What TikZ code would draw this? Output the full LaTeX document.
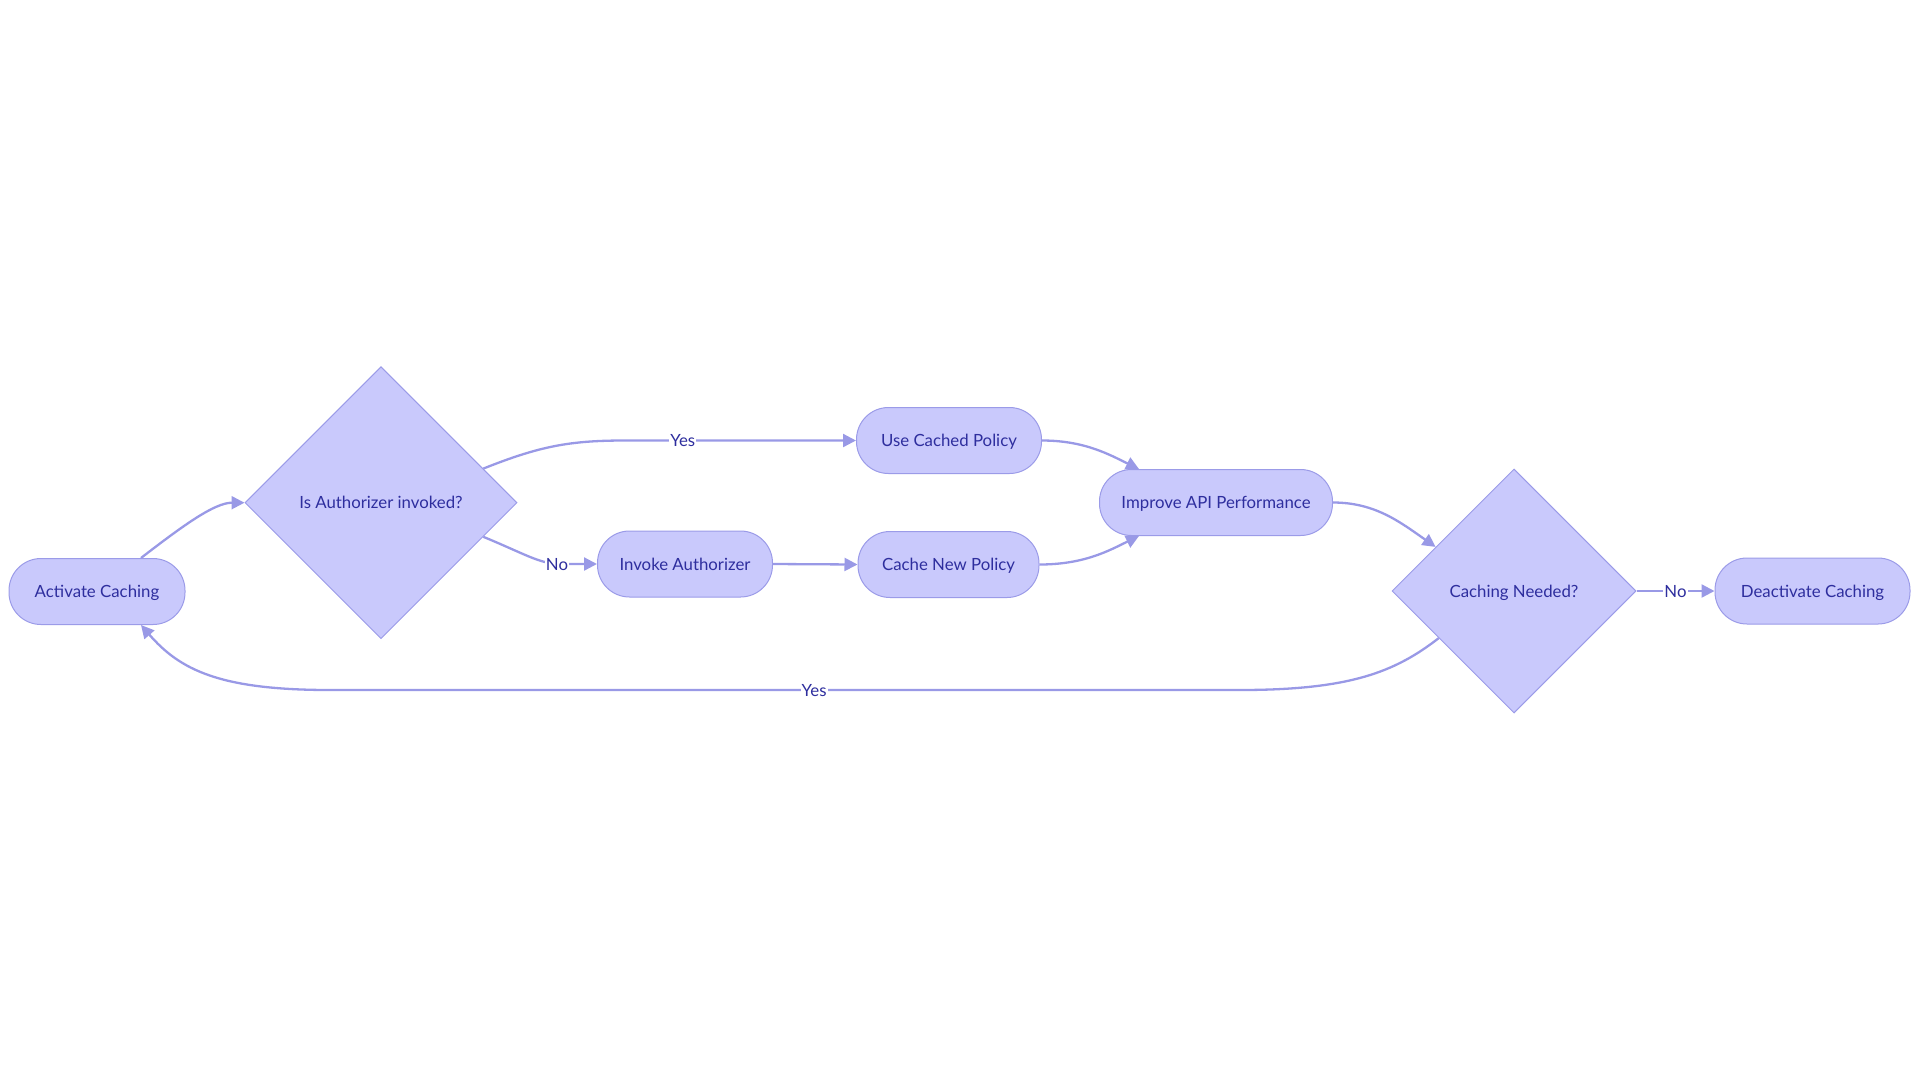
\documentclass[tikz,border=0pt]{standalone}
\usepackage{fontspec}
\setmainfont{Lato}
\usetikzlibrary{shapes.geometric,arrows.meta,calc}
\definecolor{nfill}{HTML}{C9C9FC}
\definecolor{nstroke}{HTML}{9B9BE8}
\definecolor{ncol}{HTML}{9999E6}
\definecolor{ntext}{HTML}{2E2E9E}
\tikzset{
  pill/.style={draw=nstroke, fill=nfill, line width=1pt, rectangle, rounded corners=32pt, minimum height=66pt, inner sep=0pt, text=ntext, text height=13pt, text depth=1pt, font=\fontsize{16.8}{19}\selectfont},
  decide/.style={draw=nstroke, fill=nfill, line width=1pt, diamond, aspect=1, inner sep=0pt, text=ntext, text height=13pt, text depth=1pt, font=\fontsize{16.8}{19}\selectfont},
  conn/.style={draw=ncol, line width=2.3pt, -{Triangle[length=13pt,width=13pt]}},
  elabel/.style={fill=white, text=ntext, inner sep=1pt, text height=13pt, text depth=1pt, font=\fontsize{16.8}{19}\selectfont}
}
\begin{document}
\begin{tikzpicture}[x=1pt,y=-1pt]
\useasboundingbox (0,0) rectangle (1920,1080);
\node[pill, minimum width=176pt] (act) at (97,591.5) {Activate Caching};
\node[decide, minimum width=272pt, minimum height=272pt] (d1) at (381,502.7) {Is Authorizer invoked?};
\node[pill, minimum width=185pt] (use) at (949,440.5) {Use Cached Policy};
\node[pill, minimum width=175pt] (inv) at (685,564) {Invoke Authorizer};
\node[pill, minimum width=181pt] (cnew) at (948.5,564.5) {Cache New Policy};
\node[pill, minimum width=233pt] (imp) at (1216,502.5) {Improve API Performance};
\node[decide, minimum width=244pt, minimum height=244pt] (d2) at (1514,591) {Caching Needed?};
\node[pill, minimum width=195pt] (deact) at (1812.5,591) {Deactivate Caching};

\coordinate (a1) at ([xshift=44pt]act.north);
\coordinate (a2) at ([xshift=44pt]act.south);
\coordinate (d1u) at ($(d1.east)!0.25!(d1.north)$);
\coordinate (d1l) at ($(d1.east)!0.25!(d1.south)$);
\coordinate (impt) at ([xshift=-77pt]imp.north);
\coordinate (impb) at ([xshift=-77pt]imp.south);
\coordinate (d2u) at ($(d2.west)!0.36!(d2.north)$);
\coordinate (d2l) at ($(d2.west)!0.385!(d2.south)$);

\draw[conn] (a1) .. controls (185,524) and (215,502.7) .. (d1.west);
\draw[conn] (d1u) .. controls (540,446) and (570,440.5) .. (625,440.5) -- node[elabel, pos=0.25]{Yes} (use.west);
\draw[conn] (d1l) .. controls (525,554) and (540,564) .. (560,564) -- (inv.west);
\node[elabel] (lno1) at (557,564) {No};
\draw[conn] (inv.east) -- (cnew.west);
\draw[conn] (use.east) .. controls (1085,440.5) and (1110,455) .. (impt);
\draw[conn] (cnew.east) .. controls (1085,564.5) and (1110,550) .. (impb);
\draw[conn] (imp.east) .. controls (1375,502.5) and (1400,522) .. (d2u);
\draw[conn] (d2.east) -- node[elabel, pos=0.5]{No} (deact.west);
\draw[conn] (d2l) .. controls (1395,672) and (1350,690) .. (1240,690) -- node[elabel, pos=0.468]{Yes} (330,690) .. controls (220,690) and (180,670) .. (a2);
\end{tikzpicture}
\end{document}
